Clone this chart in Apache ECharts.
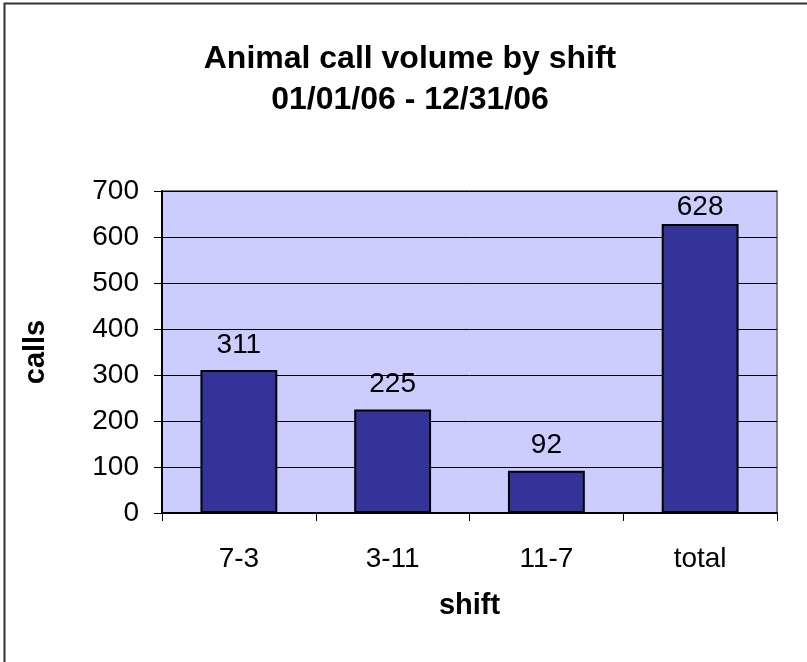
<!DOCTYPE html>
<html>
<head>
<meta charset="utf-8">
<script src="https://cdn.jsdelivr.net/npm/echarts@6/dist/echarts.min.js"></script>
<style>
  html, body { margin: 0; padding: 0; background: #fff; }
  #main { width: 807px; height: 662px; }
</style>
</head>
<body>
<div id="main"></div>
<script>
var shifts = ['7-3', '3-11', '11-7', 'total'];
var calls = [311, 225, 92, 628];
var yTicks = [0, 100, 200, 300, 400, 500, 600, 700];
var titleLines = ['Animal call volume by shift', '01/01/06 - 12/31/06'];

var chartDom = document.getElementById('main');
var myChart = echarts.init(chartDom);
var font = 'Arial, "Liberation Sans", sans-serif';

// the tallest label sits lower so it stays inside the plot, like the original
var barData = calls.map(function (v) {
  return v > 600 ? { value: v, label: { distance: 3 } } : v;
});

var option = {
  animation: false,
  textStyle: { fontFamily: font },
  graphic: [
    // outer frame: only left and top edges are visible
    {
      type: 'rect',
      shape: { x: 4.5, y: 3.5, width: 900, height: 800 },
      style: { fill: 'none', stroke: '#333', lineWidth: 2 },
      silent: true
    },
    // title, centred a little right of the canvas middle
    {
      type: 'text',
      x: 410,
      y: 39,
      style: {
        text: titleLines.join('\n'),
        fill: '#000',
        font: 'bold 32px ' + font,
        lineHeight: 41,
        align: 'center',
        verticalAlign: 'top'
      },
      silent: true
    }
  ],
  grid: {
    left: 162,
    right: 30,
    top: 191,
    bottom: 149,
    show: true,
    backgroundColor: '#ccccff',
    borderColor: '#808080',
    borderWidth: 2
  },
  xAxis: {
    type: 'category',
    data: shifts,
    name: 'shift',
    nameLocation: 'middle',
    nameGap: 78,
    nameTextStyle: { fontFamily: font, fontSize: 29, fontWeight: 'bold', color: '#000' },
    axisLine: { lineStyle: { color: '#000', width: 2 } },
    axisTick: { show: true, alignWithLabel: false, length: 8, lineStyle: { color: '#000', width: 1 } },
    axisLabel: { fontFamily: font, fontSize: 28, color: '#000', margin: 32 }
  },
  yAxis: {
    type: 'value',
    min: yTicks[0],
    max: yTicks[yTicks.length - 1],
    interval: 100,
    name: 'calls',
    nameLocation: 'middle',
    nameGap: 112,
    nameRotate: 90,
    nameTextStyle: { fontFamily: font, fontSize: 29, fontWeight: 'bold', color: '#000' },
    axisLine: { show: true, lineStyle: { color: '#000', width: 2 } },
    axisTick: { show: true, length: 8, lineStyle: { color: '#000', width: 1 } },
    axisLabel: { fontFamily: font, fontSize: 28, color: '#000', margin: 23 },
    splitLine: { show: true, lineStyle: { color: '#000', width: 1 } }
  },
  series: [
    {
      type: 'bar',
      data: barData,
      barWidth: '50%',
      itemStyle: { color: '#333399', borderColor: '#000', borderWidth: 2 },
      label: {
        show: true,
        position: 'top',
        distance: 11,
        fontFamily: font,
        fontSize: 28,
        color: '#000'
      }
    }
  ]
};

option && myChart.setOption(option);
</script>
</body>
</html>
